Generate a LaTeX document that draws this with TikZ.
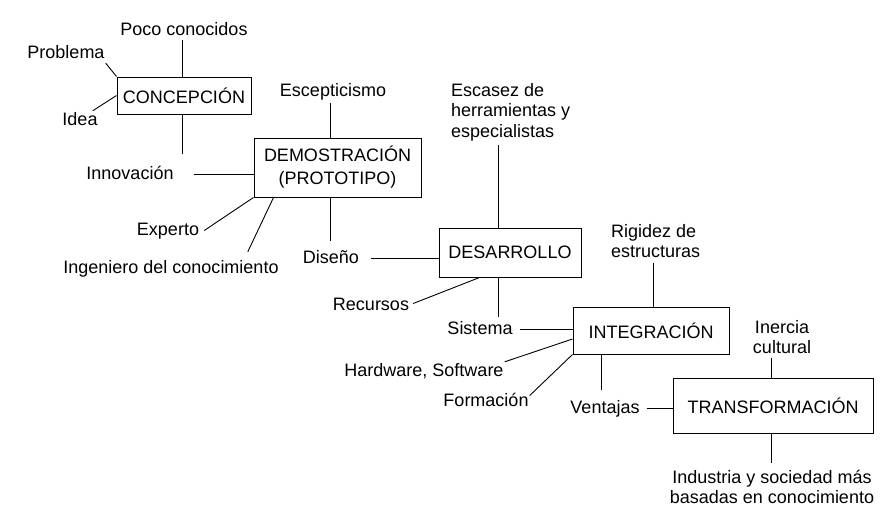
\documentclass[tikz,border=0pt]{standalone}
\usepackage{fontspec}
\setmainfont{Liberation Sans}
\begin{document}
\begin{tikzpicture}[x=1pt,y=-1pt,
  box/.style={draw, line width=1pt, inner sep=0pt, align=center, font=\fontsize{18}{23}\selectfont},
  lbl/.style={inner sep=1pt, font=\fontsize{18}{21}\selectfont, text height=13pt, text depth=4pt},
  blk/.style={inner sep=1pt, font=\fontsize{18}{20.5}\selectfont},
  conn/.style={line width=0.9pt}]
\useasboundingbox (0,0) rectangle (896,523);

% boxes
\node[box, minimum width=134pt, minimum height=37pt] (concep) at (184,95.5) {CONCEPCIÓN};
\node[box, minimum width=167pt, minimum height=59pt] (demo) at (337.5,167.5) {DEMOSTRACIÓN\\(PROTOTIPO)};
\node[box, minimum width=142pt, minimum height=49pt] (desa) at (510,252.5) {DESARROLLO};
\node[box, minimum width=156pt, minimum height=47pt] (integ) at (651,330.5) {INTEGRACIÓN};
\node[box, minimum width=200pt, minimum height=55pt] (trans) at (773,405.5) {TRANSFORMACIÓN};

% labels
\node[lbl] (poco) at (184,30.5) {Poco conocidos};
\node[lbl] (prob) at (66,53.5) {Problema};
\node[lbl] (idea) at (80,120.5) {Idea};
\node[lbl] (innov) at (130,174.5) {Innovación};
\node[lbl] (escep) at (333,91.5) {Escepticismo};
\node[lbl] (exp) at (168,230.5) {Experto};
\node[lbl] (ing) at (171,268.5) {Ingeniero del conocimiento};
\node[lbl] (dis) at (331,258.5) {Diseño};
\node[blk, anchor=west, align=left] (esc) at (450,112) {Escasez de\\herramientas y\\especialistas};
\node[lbl] (rec) at (371,305.5) {Recursos};
\node[lbl] (sis) at (480,329.5) {Sistema};
\node[blk, anchor=west, align=left] (rig) at (610,241) {Rigidez de\\estructuras};
\node[lbl] (hw) at (424,371.5) {Hardware, Software};
\node[lbl] (form) at (486,401.5) {Formación};
\node[lbl] (vent) at (605,408.5) {Ventajas};
\node[blk, align=center] (iner) at (782,337) {Inercia\\cultural};
\node[blk, align=center] (ind) at (772,487) {Industria y sociedad más\\basadas en conocimiento};

% connectors
\draw[conn] ([xshift=-2pt]concep.north) -- ([xshift=-2pt]concep.north |- poco.south);
\draw[conn] (prob.south east) -- (concep.north west);
\draw[conn] ([xshift=-6pt]idea.north east) -- (concep.west);
\coordinate (innovtop) at ([xshift=52pt,yshift=11pt]innov.north);
\draw[conn] (concep.south -| innovtop) -- (innovtop);
\draw[conn] ([xshift=19pt]innov.east) -- (innov.east -| demo.west);

\coordinate (escepb) at ([xshift=-3pt,yshift=-2pt]escep.south);
\draw[conn] (escepb) -- (escepb |- demo.north);
\coordinate (distop) at ([xshift=-1pt,yshift=8pt]dis.north);
\draw[conn] (distop |- demo.south) -- (distop);
\draw[conn] ([xshift=4pt]exp.east) -- (demo.south west);
\coordinate (ingtop) at ([xshift=-32pt,yshift=7pt]ing.north east);
\draw[conn] (ingtop) -- ([xshift=20pt]demo.south west);

\draw[conn] ([xshift=11pt]dis.east) -- (dis.east -| desa.west);
\coordinate (escb) at ([xshift=-12pt,yshift=-3pt]esc.south);
\draw[conn] (escb) -- (escb |- desa.north);
\draw[conn] ([xshift=3pt,yshift=2pt]rec.east) -- ([xshift=41pt]desa.south west);
\coordinate (sistop) at ([xshift=18pt,yshift=3pt]sis.north);
\draw[conn] (sistop |- desa.south) -- (sistop);

\draw[conn] ([xshift=6pt]sis.east) -- (sis.east -| integ.west);
\coordinate (rigb) at ([xshift=-2.5pt,yshift=-4pt]rig.south);
\draw[conn] (rigb) -- (rigb |- integ.north);
\draw[conn] (hw.north east) -- ([yshift=-8.5pt]integ.west);
\draw[conn] ([yshift=6pt]form.east) -- (integ.south west);
\coordinate (venttop) at ([xshift=-4pt,yshift=9pt]vent.north);
\draw[conn] (venttop |- integ.south) -- (venttop);

\draw[conn] ([xshift=6pt]vent.east) -- (vent.east -| trans.west);
\coordinate (inerb) at ([xshift=-11pt,yshift=-3pt]iner.south);
\draw[conn] (inerb) -- (inerb |- trans.north);
\coordinate (indt) at ([xshift=-1pt,yshift=6pt]ind.north);
\draw[conn] (indt |- trans.south) -- (indt);
\end{tikzpicture}
\end{document}
